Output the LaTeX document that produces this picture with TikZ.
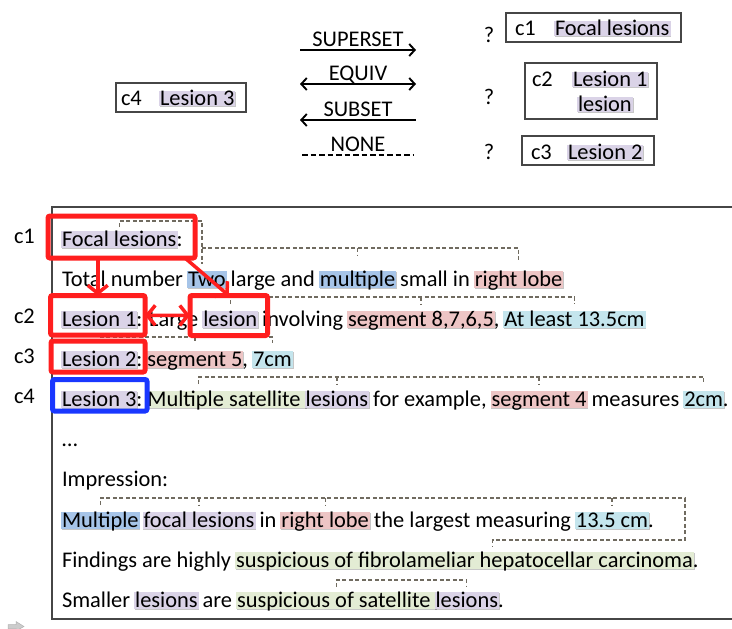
\documentclass[tikz,border=0pt]{standalone}
\usepackage{fontspec}
\setmainfont{Carlito}
\usetikzlibrary{arrows.meta,shadows}

\definecolor{hlpurple}{RGB}{218,211,231}
\definecolor{hlblue}{RGB}{166,196,232}
\definecolor{hlpink}{RGB}{237,197,197}
\definecolor{hlcyan}{RGB}{196,229,237}
\definecolor{hlgreen}{RGB}{227,236,212}
\definecolor{markred}{RGB}{255,30,30}
\definecolor{markblue}{RGB}{25,55,255}
\definecolor{arcclr}{RGB}{112,107,96}
\definecolor{frameclr}{RGB}{70,70,70}

\newdimen\wgap \wgap=5pt

\begin{document}
\begin{tikzpicture}[x=1pt,y=-1pt,
  font=\fontsize{22.4}{26}\selectfont,
  tx/.style={inner sep=0pt,outer sep=0pt,anchor=base west},
  hl/.style={tx,fill=#1,inner xsep=1pt,outer xsep=-1pt,
    text height=15.5pt,text depth=1.5pt,
    drop shadow={shadow xshift=0.8pt,shadow yshift=-1.2pt,opacity=0.22,fill=black}},
  hlsmall/.style={hl=#1,text height=14pt,text depth=1pt},
  plainbox/.style={draw=frameclr,line width=1.2pt,inner sep=0pt,outer sep=0pt},
  redbox/.style={draw=markred,line width=5pt,rounded corners=2pt,inner sep=0pt,outer sep=0pt},
  bluebox/.style={redbox,draw=markblue},
  redtip/.tip={Straight Barb[length=8pt,width=20pt]},
  redarrow/.style={draw=markred,line width=3.5pt,-redtip},
  relarrow/.style={draw=black,line width=1.9pt},
  reltip/.tip={Straight Barb[length=5.5pt,width=12pt]},
  rellabel/.style={midway,anchor=base,yshift=3.5pt,inner sep=0pt},
  arcline/.style={draw=arcclr,line width=1.35pt,dash pattern=on 4pt off 2.5pt},
]
\useasboundingbox (0,0) rectangle (732,629);

% ---------------- relation legend ----------------
\node[plainbox,minimum width=130pt,minimum height=29pt] (c4box) at (181,97.5) {};
\node[tx] (c4t) at (121,105) {c4};
\node[hlsmall=hlpurple] (c4l) at (160,105) {Lesion 3};

\coordinate (supL) at (300,50);  \coordinate (supR) at (416,50);
\coordinate (eqL)  at (300,84);  \coordinate (eqR)  at (416,84);
\coordinate (subL) at (300,120); \coordinate (subR) at (416,120);
\coordinate (nonL) at (302,155); \coordinate (nonR) at (414,155);

\draw[relarrow,-reltip] (supL) -- node[rellabel] {SUPERSET} (supR);
\draw[relarrow,reltip-reltip] (eqL) -- node[rellabel] {EQUIV} (eqR);
\draw[relarrow,reltip-] (subL) -- node[rellabel] {SUBSET} (subR);
\draw[relarrow,dash pattern=on 5.5pt off 3pt] (nonL) -- node[rellabel] {NONE} (nonR);

\node[anchor=base,inner sep=0pt] (q1) at (489,42) {?};
\node[anchor=base,inner sep=0pt] (q2) at (489,104) {?};
\node[anchor=base,inner sep=0pt] (q3) at (489,159) {?};

\node[plainbox,minimum width=175pt,minimum height=29pt] (c1box) at (593.5,27.5) {};
\node[tx] (c1t) at (515,35) {c1};
\node[hlsmall=hlpurple] (c1l) at (555,35) {Focal lesions};

\node[plainbox,minimum width=132pt,minimum height=56pt] (c2box) at (591,91) {};
\node[tx] (c2t) at (532,86) {c2};
\node[hlsmall=hlpurple] (c2l) at (573,86) {Lesion 1};
\node[hlsmall=hlpurple] (c2m) at (578,111) {lesion};

\node[plainbox,minimum width=132pt,minimum height=29pt] (c3box) at (588,150.5) {};
\node[tx] (c3t) at (531,159) {c3};
\node[hlsmall=hlpurple] (c3l) at (568,159) {Lesion 2};

% ---------------- report text ----------------
\draw[draw=frameclr,line width=1.2pt] (734,207) -- (52,207) -- (52,619) -- (734,619);

\node[tx] (k1) at (14,243) {c1};
\node[tx] (k2) at (14,323) {c2};
\node[tx] (k3) at (14,363) {c3};
\node[tx] (k4) at (14,403) {c4};

% line 1
\node[hl=hlpurple] (focal) at (62,246) {Focal lesions};
\node[tx] (focalc) at (focal.base east) {:};
% line 2
\node[tx] (l2a) at (62,286) {Total number};
\node[hl=hlblue] (two) at ([xshift=\wgap]l2a.base east) {Two};
\node[tx] (l2b) at ([xshift=\wgap]two.base east) {large and};
\node[hl=hlblue] (multA) at ([xshift=\wgap]l2b.base east) {multiple};
\node[tx] (l2c) at ([xshift=\wgap]multA.base east) {small in};
\node[hl=hlpink] (lobeA) at ([xshift=\wgap]l2c.base east) {right lobe};
% line 3
\node[hl=hlpurple] (lesA) at (62,326) {Lesion 1};
\node[tx] (l3a) at (lesA.base east) {: Large};
\node[hl=hlpurple] (lesB) at ([xshift=\wgap]l3a.base east) {lesion};
\node[tx] (l3b) at ([xshift=\wgap]lesB.base east) {involving};
\node[hl=hlpink] (segA) at ([xshift=\wgap]l3b.base east) {segment 8,7,6,5};
\node[tx] (l3c) at (segA.base east) {,};
\node[hl=hlcyan] (atl) at ([xshift=\wgap]l3c.base east) {At least 13.5cm};
% line 4
\node[hl=hlpurple] (lesC) at (62,366) {Lesion 2};
\node[tx] (l4a) at (lesC.base east) {:};
\node[hl=hlpink] (segB) at ([xshift=\wgap]l4a.base east) {segment 5};
\node[tx] (l4b) at (segB.base east) {,};
\node[hl=hlcyan] (cmA) at ([xshift=\wgap]l4b.base east) {7cm};
% line 5
\node[hl=hlpurple] (lesD) at (62,406) {Lesion 3};
\node[tx] (l5a) at (lesD.base east) {:};
\node[hl=hlgreen] (satA) at ([xshift=\wgap]l5a.base east) {Multiple satellite\rule{\wgap}{0pt}};
\node[hl=hlpurple] (lesE) at (satA.base east) {lesions};
\node[tx] (l5b) at ([xshift=\wgap]lesE.base east) {for example,};
\node[hl=hlpink] (segC) at ([xshift=\wgap]l5b.base east) {segment 4};
\node[tx] (l5c) at ([xshift=\wgap]segC.base east) {measures};
\node[hl=hlcyan] (cmB) at ([xshift=\wgap]l5c.base east) {2cm};
\node[tx] (l5d) at (cmB.base east) {.};
% lines 6-7
\node[tx] (dots) at (62,446) {…};
\node[tx] (impr) at (62,486) {Impression:};
% line 8
\node[hl=hlblue] (multB) at (62,527) {Multiple};
\node[hl=hlpurple] (focalB) at ([xshift=\wgap]multB.base east) {focal lesions};
\node[tx] (l8a) at ([xshift=\wgap]focalB.base east) {in};
\node[hl=hlpink] (lobeB) at ([xshift=\wgap]l8a.base east) {right lobe};
\node[tx] (l8b) at ([xshift=\wgap]lobeB.base east) {the largest measuring};
\node[hl=hlcyan] (cmC) at ([xshift=\wgap]l8b.base east) {13.5 cm};
\node[tx] (l8c) at (cmC.base east) {.};
% line 9
\node[tx] (l9a) at (62,567) {Findings are highly};
\node[hl=hlgreen] (suspA) at ([xshift=\wgap]l9a.base east) {suspicious of fibrolameliar hepatocellar carcinoma};
\node[tx] (l9b) at (suspA.base east) {.};
% line 10
\node[tx] (l10a) at (62,607) {Smaller};
\node[hl=hlpurple] (lesF) at ([xshift=\wgap]l10a.base east) {lesions};
\node[tx] (l10b) at ([xshift=\wgap]lesF.base east) {are};
\node[hl=hlgreen] (suspB) at ([xshift=\wgap]l10b.base east) {suspicious of satellite\rule{\wgap}{0pt}};
\node[hl=hlpurple] (lesG) at (suspB.base east) {lesions};
\node[tx] (l10c) at (lesG.base east) {.};

% ---------------- relation arcs ----------------
\coordinate (tkTwo) at ([xshift=-5pt,yshift=7pt]two.north);
\coordinate (tkSat) at ([xshift=-28pt]satA.north);
\coordinate (tkSusp) at ([xshift=28pt,yshift=5.5pt]suspA.north);
\coordinate (bendF) at (685,0);

\draw[arcline] (focal.north |- 0,227) -- (focal.north |- 0,221) -| (tkTwo);
\draw[arcline] (tkTwo |- 0,248) -| ([yshift=8pt]lobeA.north);
\draw[arcline] (multA.north |- 0,248) -- (multA.north |- 0,255);

\draw[arcline] (lesB.north |- 0,304) -- (lesB.north |- 0,297) -| (atl.north |- 0,304);
\draw[arcline] (segA.north |- 0,297) -- (segA.north |- 0,304);

\draw[arcline] (lesC.north |- 0,343) -- (lesC.north |- 0,337) -| (cmA.north |- 0,343);
\draw[arcline] (segB.north |- 0,337) -- (segB.north |- 0,343);

\draw[arcline] (tkSat |- 0,384) -- (tkSat |- 0,377) -| (cmB.north |- 0,384);
\draw[arcline] (lesE.north |- 0,377) -- (lesE.north |- 0,384);
\draw[arcline] (segC.north |- 0,377) -- (segC.north |- 0,384);

\draw[arcline] (multB.north |- 0,505) -- (multB.north |- 0,498) -- (bendF |- 0,498)
  -- (bendF |- 0,540) -| (tkSusp);
\draw[arcline] (focalB.north |- 0,498) -- (focalB.north |- 0,505);
\draw[arcline] (lobeB.north |- 0,498) -- (lobeB.north |- 0,505);
\draw[arcline] (cmC.north |- 0,498) -- (cmC.north |- 0,505);

\draw[arcline] (suspB.north |- 0,587) -- (suspB.north |- 0,580) -| (lesG.north |- 0,587);

% ---------------- mention boxes and links ----------------
\node[redbox,minimum width=147pt,minimum height=42pt] (boxF) at (121.5,237) {};
\node[redbox,minimum width=94.5pt,minimum height=39.5pt] (box1) at (97.75,315.25) {};
\node[redbox,minimum width=77.5pt,minimum height=40pt] (box1b) at (228.75,315.5) {};
\node[redbox,minimum width=94pt,minimum height=31pt] (box2) at (98,356.5) {};
\node[bluebox,minimum width=94.5pt,minimum height=31.5pt] (boxB) at (99.75,395.25) {};

\draw[redarrow] (box1.north |- boxF.south) -- (box1.north);
\draw[redarrow] ([xshift=-10pt]boxF.south east) -- (box1b.north);
\draw[redarrow,redtip-redtip] (box1.east) -- (box1b.west);

% small navigation glyph in the corner
\filldraw[fill=gray!40,draw=gray!60,line width=0.5pt]
  (8,624.5) -- (16,624.5) -- (16,621.5) -- (24,626.5) -- (16,631) -- (16,628.5) -- (8,628.5) -- cycle;
\end{tikzpicture}
\end{document}
